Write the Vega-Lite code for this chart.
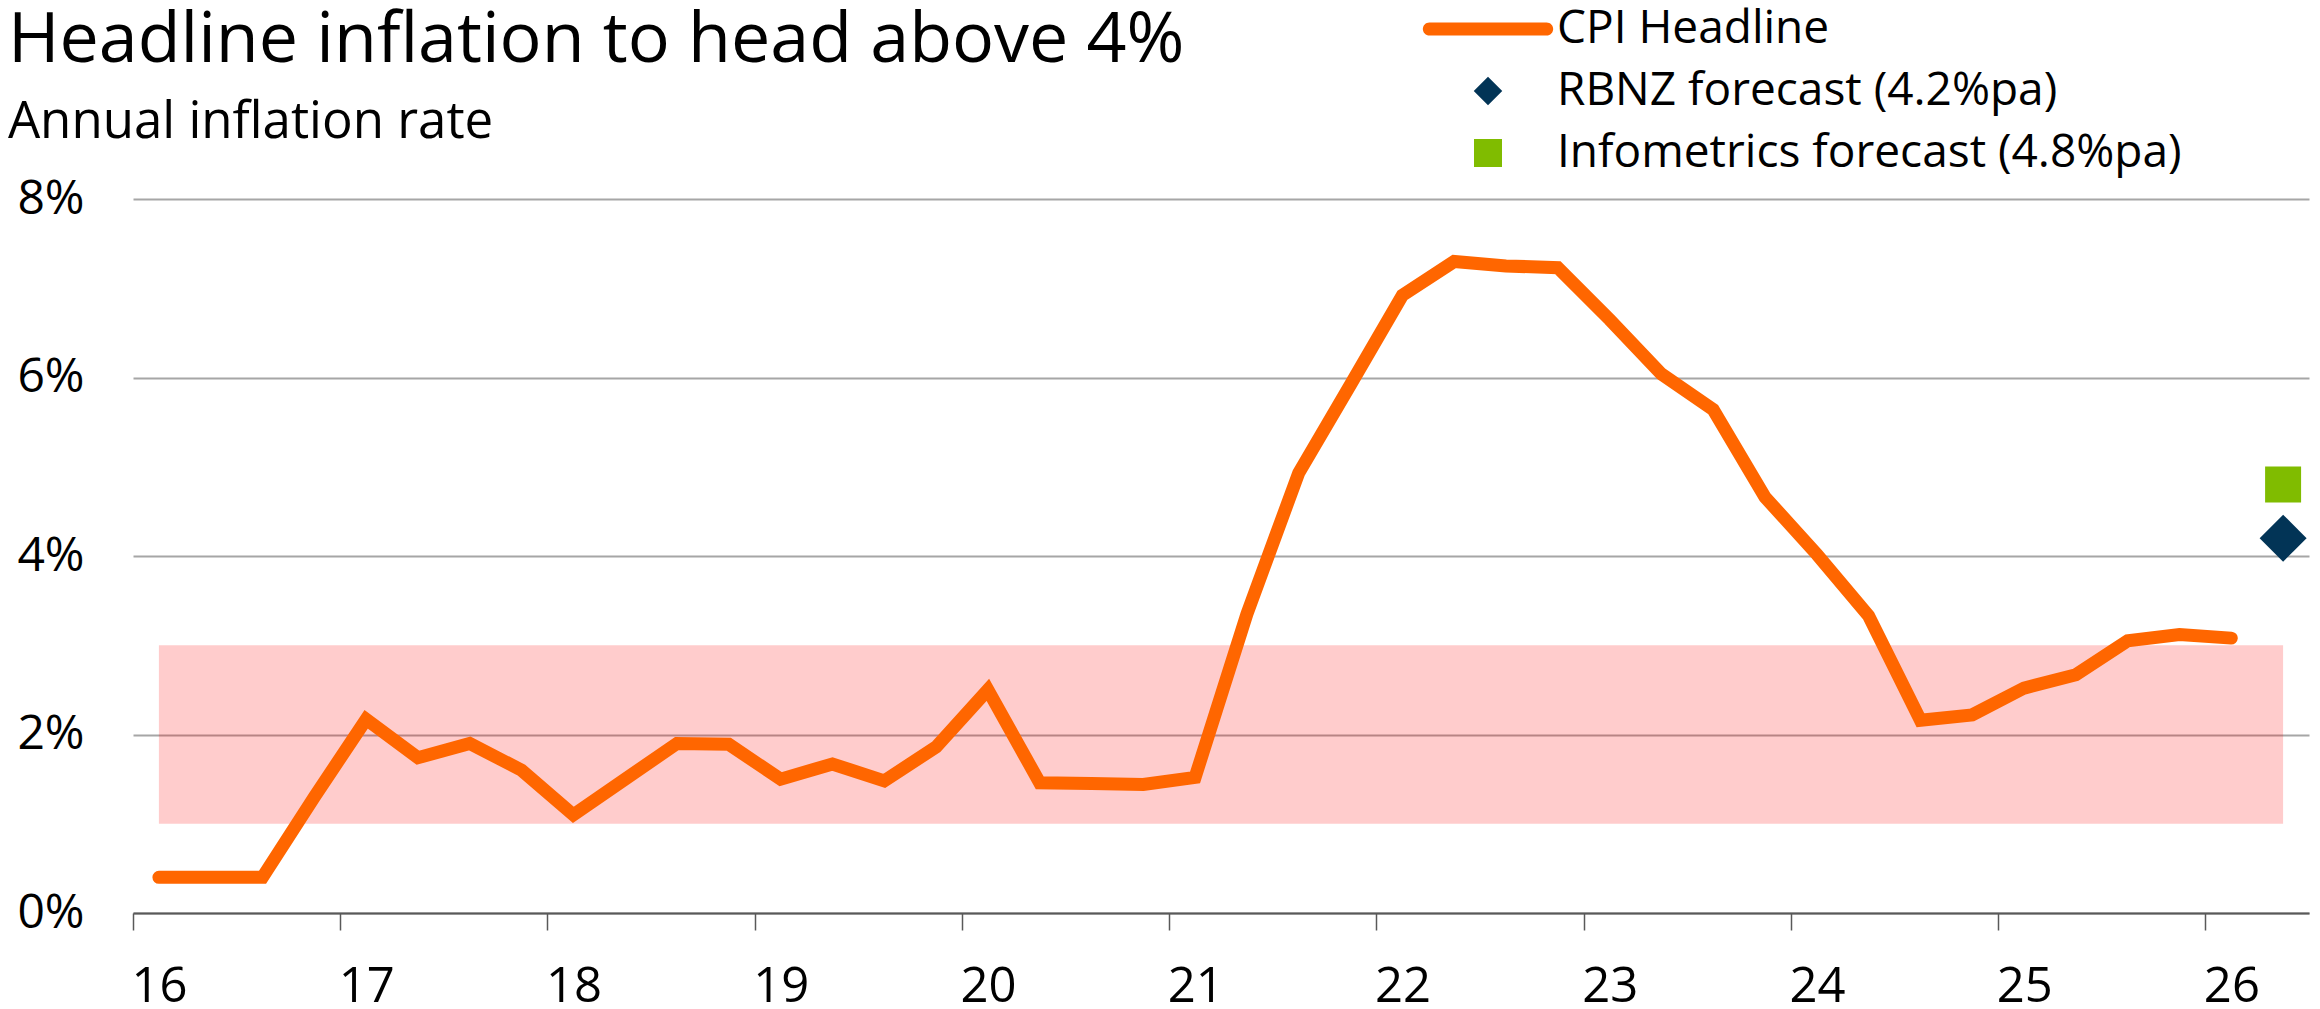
{
  "$schema": "https://vega.github.io/schema/vega-lite/v6.json",
  "width": 2176,
  "height": 714,
  "autosize": {"type": "none"},
  "padding": {"left": 133, "top": 199, "right": 11, "bottom": 96},
  "background": "white",
  "config": {"view": {"stroke": null}, "font": "Open Sans"},
  "title": {
    "text": "Headline inflation to head above 4%",
    "subtitle": "Annual inflation rate",
    "anchor": "start",
    "frame": "bounds",
    "orient": "top",
    "font": "Open Sans",
    "subtitleFont": "Open Sans",
    "fontSize": 70,
    "subtitleFontSize": 51,
    "fontWeight": "normal",
    "subtitleFontWeight": "normal",
    "color": "#000000",
    "subtitleColor": "#000000",
    "subtitlePadding": 21,
    "offset": -143,
    "dx": -9
  },
  "datasets": {
    "band": [{"t": 2016, "t_end": 2026.25, "value": 1, "value_end": 3}],
    "cpi": [
      {"t": 2016.00, "value": 0.4},
      {"t": 2016.25, "value": 0.4},
      {"t": 2016.50, "value": 0.4},
      {"t": 2016.75, "value": 1.3},
      {"t": 2017.00, "value": 2.17},
      {"t": 2017.25, "value": 1.74},
      {"t": 2017.50, "value": 1.9},
      {"t": 2017.75, "value": 1.6},
      {"t": 2018.00, "value": 1.1},
      {"t": 2018.25, "value": 1.5},
      {"t": 2018.50, "value": 1.9},
      {"t": 2018.75, "value": 1.89},
      {"t": 2019.00, "value": 1.5},
      {"t": 2019.25, "value": 1.67},
      {"t": 2019.50, "value": 1.48},
      {"t": 2019.75, "value": 1.86},
      {"t": 2020.00, "value": 2.5},
      {"t": 2020.25, "value": 1.46},
      {"t": 2020.50, "value": 1.45},
      {"t": 2020.75, "value": 1.44},
      {"t": 2021.00, "value": 1.52},
      {"t": 2021.25, "value": 3.35},
      {"t": 2021.50, "value": 4.93},
      {"t": 2021.75, "value": 5.92},
      {"t": 2022.00, "value": 6.92},
      {"t": 2022.25, "value": 7.3},
      {"t": 2022.50, "value": 7.25},
      {"t": 2022.75, "value": 7.23},
      {"t": 2023.00, "value": 6.65},
      {"t": 2023.25, "value": 6.04},
      {"t": 2023.50, "value": 5.64},
      {"t": 2023.75, "value": 4.66},
      {"t": 2024.00, "value": 4.02},
      {"t": 2024.25, "value": 3.33},
      {"t": 2024.50, "value": 2.16},
      {"t": 2024.75, "value": 2.22},
      {"t": 2025.00, "value": 2.52},
      {"t": 2025.25, "value": 2.67},
      {"t": 2025.50, "value": 3.05},
      {"t": 2025.75, "value": 3.12},
      {"t": 2026.00, "value": 3.08}
    ],
    "forecast": [
      {"t": 2026.25, "value": 4.2, "series": "RBNZ forecast (4.2%pa)"},
      {"t": 2026.25, "value": 4.8, "series": "Infometrics forecast (4.8%pa)"}
    ]
  },
  "encoding": {
    "x": {
      "field": "t",
      "type": "quantitative",
      "scale": {"domain": [2015.875, 2026.375], "nice": false, "zero": false},
      "axis": {
        "title": null,
        "values": [2015.875, 2016.875, 2017.875, 2018.875, 2019.875, 2020.875, 2021.875, 2022.875, 2023.875, 2024.875, 2025.875],
        "labelExpr": "'' + round(datum.value + 0.125 - 2000)",
        "labelOffset": 26,
        "labelFlush": false,
        "labelOverlap": false,
        "labelBound": false,
        "labelFont": "Open Sans",
        "labelFontSize": 49,
        "labelColor": "#000000",
        "labelPadding": 32,
        "grid": false,
        "domain": true,
        "domainColor": "#595959",
        "domainWidth": 2,
        "ticks": true,
        "tickColor": "#595959",
        "tickWidth": 1.5,
        "tickSize": 17
      }
    },
    "y": {
      "field": "value",
      "type": "quantitative",
      "scale": {"domain": [0, 8], "nice": false, "zero": true},
      "axis": {
        "title": null,
        "values": [0, 2, 4, 6, 8],
        "labelExpr": "datum.value + '%'",
        "labelFont": "Open Sans",
        "labelFontSize": 48,
        "labelColor": "#000000",
        "labelPadding": 49,
        "grid": true,
        "gridColor": "#A6A6A6",
        "gridWidth": 2,
        "domain": false,
        "ticks": false
      }
    }
  },
  "layer": [
    {
      "data": {"name": "band"},
      "mark": {"type": "rect", "fill": "#FF0000", "fillOpacity": 0.2},
      "encoding": {
        "x2": {"field": "t_end"},
        "y2": {"field": "value_end"}
      }
    },
    {
      "data": {"name": "cpi"},
      "mark": {"type": "line", "stroke": "#FF6600", "strokeWidth": 13, "strokeCap": "round"}
    },
    {
      "data": {"name": "forecast"},
      "mark": {"type": "point", "filled": true, "size": 5746, "opacity": 1, "strokeWidth": 0},
      "transform": [{"filter": "datum.series === 'RBNZ forecast (4.2%pa)'"}],
      "encoding": {
        "color": {
          "field": "series",
          "type": "nominal",
          "scale": {
            "domain": ["CPI Headline", "RBNZ forecast (4.2%pa)", "Infometrics forecast (4.8%pa)"],
            "range": ["#FF6600", "#023456", "#80BC00"]
          },
          "legend": {
            "title": null,
            "orient": "none",
            "direction": "vertical",
            "legendX": 1332,
            "legendY": -193,
            "padding": 0,
            "symbolSize": 2116,
            "symbolStrokeWidth": 0,
            "labelFont": "Open Sans",
            "labelFontSize": 46,
            "labelColor": "#000000",
            "labelOffset": 46,
            "labelLimit": 1000,
            "rowPadding": 16
          }
        },
        "shape": {
          "field": "series",
          "type": "nominal",
          "scale": {
            "domain": ["CPI Headline", "RBNZ forecast (4.2%pa)", "Infometrics forecast (4.8%pa)"],
            "range": [
              "M-2.55,-0.283L2.55,-0.283A0.283,0.283,0,0,1,2.55,0.283L-2.55,0.283A0.283,0.283,0,0,1,-2.55,-0.283Z",
              "M0,-0.62L0.62,0L0,0.62L-0.62,0Z",
              "M-0.61,-0.61L0.61,-0.61L0.61,0.61L-0.61,0.61Z"
            ]
          },
          "legend": {
            "title": null,
            "orient": "none",
            "direction": "vertical",
            "legendX": 1332,
            "legendY": -193,
            "padding": 0,
            "symbolSize": 2116,
            "symbolStrokeWidth": 0,
            "labelFont": "Open Sans",
            "labelFontSize": 46,
            "labelColor": "#000000",
            "labelOffset": 46,
            "labelLimit": 1000,
            "rowPadding": 16
          }
        }
      }
    },
    {
      "data": {"name": "forecast"},
      "mark": {"type": "point", "filled": true, "size": 3482, "opacity": 1, "strokeWidth": 0},
      "transform": [{"filter": "datum.series === 'Infometrics forecast (4.8%pa)'"}],
      "encoding": {
        "color": {"field": "series", "type": "nominal"},
        "shape": {"field": "series", "type": "nominal"}
      }
    }
  ]
}
